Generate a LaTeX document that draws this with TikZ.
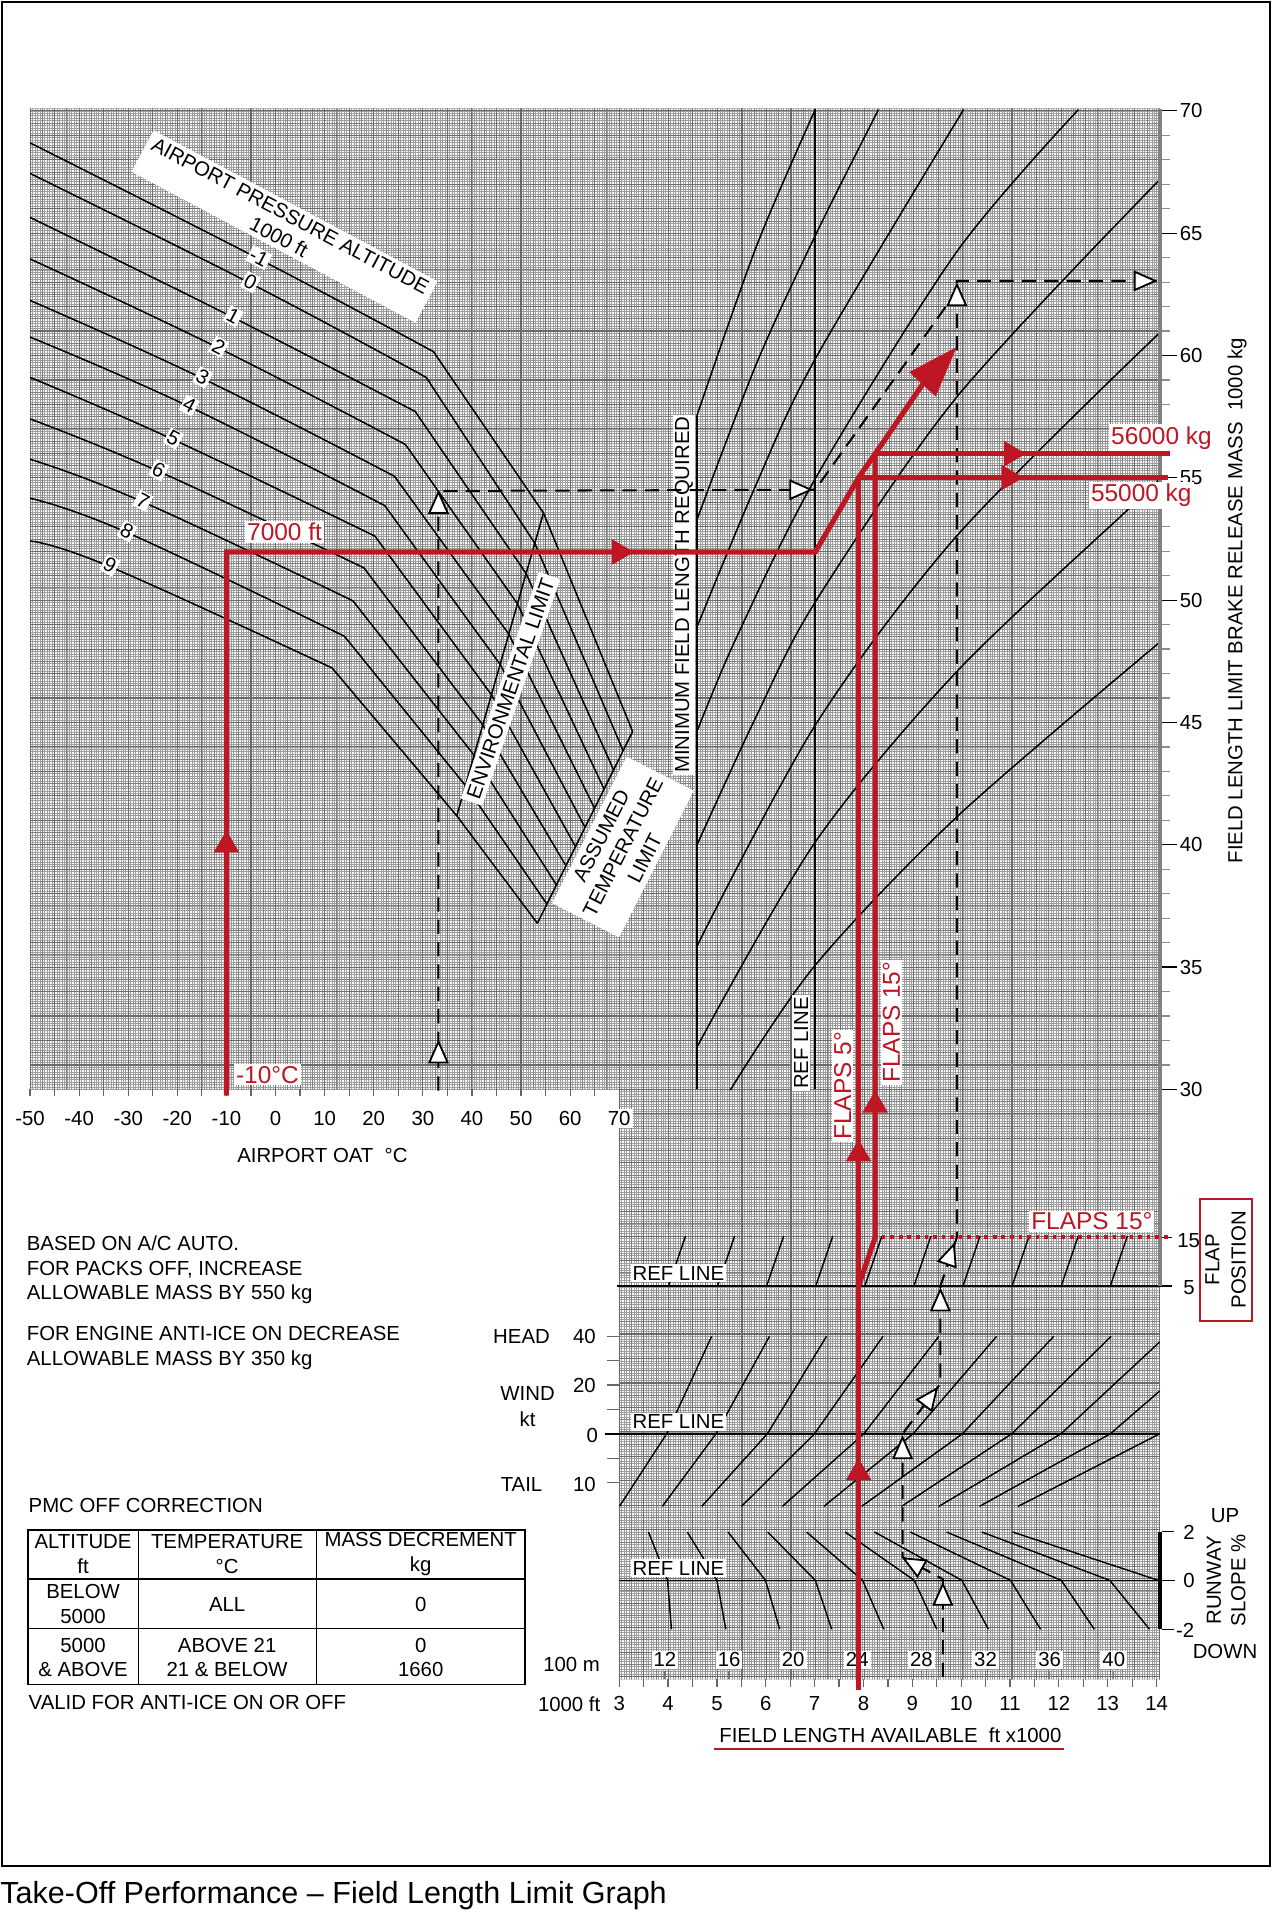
\documentclass[tikz,border=0pt]{standalone}
\usepackage{fontspec}
\setmainfont{Liberation Sans}
\usetikzlibrary{calc}
\usetikzlibrary{arrows.meta}
\definecolor{chartred}{RGB}{190,22,34}
\tikzset{
  gridminor/.style={black!38,line width=0.35pt},
  gridmid/.style={black!50,line width=0.45pt},
  gridmajor/.style={black!58,line width=0.55pt},
  curve/.style={black,line width=0.75pt},
  guide/.style={black,line width=0.7pt},
  lbl/.style={font=\fontsize{10}{12}\selectfont,inner sep=1pt},
  wlbl/.style={lbl,fill=white},
  redlbl/.style={font=\fontsize{12}{14}\selectfont,text=chartred,fill=white,inner sep=1pt},
  redpath/.style={chartred,line width=2.5pt},
  example/.style={black,line width=1pt,dash pattern=on 7pt off 4pt},
  otri/.pic={\draw[fill=white,line width=0.9pt,line join=miter,solid] (0,0) -- (-17,7.5) -- (-17,-7.5) -- cycle;},
  rtri/.pic={\fill[chartred] (0,0) -- (-18,10.5) -- (-18,-10.5) -- cycle;},
}
\begin{document}
\begin{tikzpicture}[x=0.6pt,y=-0.6pt]
  \useasboundingbox (0,0) rectangle (1041,1568);
  \draw[line width=1pt] (1.5,1.5) rectangle (1039.5,1528);
  \node[anchor=west,inner sep=0pt,font=\fontsize{15}{18}\selectfont] (caption) at (0,1552)
    {Take-Off Performance – Field Length Limit Graph};
  %
  % background grid
  \begin{scope}
    \clip (24.6,88.8) -- (949.6,88.8) -- (949.6,1375) -- (507,1375) -- (507,892) -- (24.6,892) -- cycle;
    \draw[gridminor] \foreach \i in {0,...,461} {({24.6+2.01*\i},88) -- ++(0,1290)};
    \draw[gridminor] \foreach \j in {-401,...,242} {(24,{892+2.003*\j}) -- ++(927,0)};
    \draw[gridmid] \foreach \i in {0,...,92} {({24.6+10.05*\i},88) -- ++(0,1290)};
    \draw[gridmid] \foreach \j in {-80,...,49} {(24,{892+10.015*\j}) -- ++(927,0)};
    \draw[gridmajor] \foreach \i in {0,...,46} {({24.6+20.1*\i},88) -- ++(0,1290)};
    \draw[gridmajor] \foreach \j in {-40,...,24} {(24,{892+20.03*\j}) -- ++(927,0)};
  \end{scope}
  %
  % pressure altitude lines
  \foreach \ya/\px/\py/\bx/\by [count=\n from 0] in {117/212/212/355/288, 142/205/232/349/309,
      178/191/260/340/337, 212/179/285/332/364, 246/166/310/323/390, 276/155/333/315/414,
      309/142/360/307/439, 343/130/386/298/465, 376/117/411/289/492, 408/104/436/282/521,
      443/90/464/272/547}
    \draw[curve] plot[smooth,tension=0.7] coordinates {(24.6,\ya) (\px,\py) (\bx,\by)}
      -- ($(445,420)!\n/10!(374,668)$) -- ($(518,599)!\n/10!(440,756)$);
  \draw[curve] (445,420) -- (374,668);
  \draw[curve] (518,599) -- (440,756);
  %
  % field length curves
  \draw[curve] (570.6,892) -- (570.6,340.4);
  \draw[curve] (667.5,89) -- (667.5,892);
  \draw[curve] plot[smooth] coordinates {(570.6,340.4) (619.7,200.8) (667.5,89.7)};
  \draw[curve] plot[smooth] coordinates {(570.6,425.8) (619.7,297) (667.5,193) (719.3,89.7)};
  \draw[curve] plot[smooth] coordinates {(570.6,513.6) (619,397) (667.5,293.9) (789,89.7)};
  \draw[curve] plot[smooth] coordinates {(570.6,599) (603,522) (667.5,392) (783.5,206) (883,89.7)};
  \draw[curve] plot[smooth] coordinates {(570.6,692) (619,587) (667.5,493) (783.5,325) (948.7,148)};
  \draw[curve] plot[smooth] coordinates {(570.6,774.8) (667.5,593.8) (783.5,438.7) (948.7,273.2)};
  \draw[curve] plot[smooth] coordinates {(570.6,857.5) (667.5,689.5) (783.5,549.8) (925.5,415.4) (948.7,393)};
  \draw[curve] plot[smooth] coordinates {(597.9,892.6) (667.5,790.3) (783.5,668.8) (948.7,526.6)};
  %
  % flap, wind and slope guide lines
  \foreach \k in {0,...,9}
    \draw[guide] ({547.3+40.2*\k},1053) -- ++(14,-41);
  \draw[guide] (505,1053) -- (960,1053);
  \draw[guide] (495,1174) -- (949.6,1174);
  \draw[guide] (507,1294) -- (962,1294);
  \foreach \wb/\wr/\wx/\wy in {507.2/545.8/582.7/1094.2, 542.3/586.2/630/1094.2,
      574.6/628.3/676.7/1094.2, 607.2/666.9/723/1094.2, 640.6/707.3/768.7/1094.2,
      674.6/747.6/816/1094.2, 705.5/788/862.8/1094.2, 738.2/828.4/909.8/1094.2,
      768.7/868.7/949.5/1098.8, 802/909.1/949.5/1139}
    \draw[guide] (\wb,1233.4) -- (\wr,1174) -- (\wx,\wy);
  \draw[guide] (833.6,1233.4) -- (949.5,1174);
  \foreach \st/\sr/\sb in {531/546.6/549.8, 562.8/587/594.3, 596.1/626.8/638.4, 628.6/667.6/681,
      660.4/706.3/723.6, 692/748.6/767, 716.1/787.6/809.3, 745.3/827.4/852, 775/869/896,
      803.9/908.7/941.2}
    \draw[guide] (\st,1254.4) -- (\sr,1294) -- (\sb,1334);
  \draw[guide] (829.2,1254.4) -- (948.4,1294);
  %
  % right hand scales
  \fill[black!50] (948,89) rectangle (951.5,1053);
  \fill[black] (948.5,1254) rectangle (951.5,1334);
  \foreach \m in {30,...,70}{
    \pgfmathsetmacro{\my}{892-20.03*(\m-30)}
    \draw[black!45,line width=0.6pt] (951.5,\my) -- (958,\my);
  }
  \foreach \m in {30,35,...,70}{
    \pgfmathsetmacro{\my}{892-20.03*(\m-30)}
    \draw[line width=0.6pt] (951.5,\my) -- (964,\my);
    \node[lbl,anchor=west] (mass\m) at (964,\my) {\m};
  }
  \node[lbl,rotate=90] (masstitle) at (1013,492) {FIELD LENGTH LIMIT BRAKE RELEASE MASS~~1000 kg};
  \draw[line width=0.6pt] (951.5,1013) -- (960,1013);
  \node[lbl,anchor=west] (flap15) at (962,1016) {15};
  \node[lbl,anchor=west] (flap5) at (967,1054) {5};
  \draw[chartred,line width=1pt] (982.5,981.5) rectangle (1025,1081.5);
  \node[lbl,rotate=90,align=center,font=\fontsize{10}{13}\selectfont] (flappos) at (1003.5,1031.5) {FLAP\\POSITION};
  \draw[line width=0.6pt] (951.5,1254) -- (961,1254) (951.5,1334) -- (961,1334);
  \node[lbl,anchor=west] (slope2) at (967,1255) {2};
  \node[lbl,anchor=west] (slope0) at (967,1294) {0};
  \node[lbl,anchor=west] (slopem2) at (961,1335) {-2};
  \node[lbl] (up) at (1003,1241) {UP};
  \node[lbl] (down) at (1003,1352) {DOWN};
  \node[lbl,rotate=90,align=center,font=\fontsize{10}{12}\selectfont] (rwyslope) at (1004,1294) {RUNWAY\\SLOPE \%};
  %
  % left hand wind scale
  \foreach \wy in {1094,1114,1134,1154,1194,1214}
    \draw[black!60,line width=0.6pt] (497,\wy) -- (507,\wy);
  \node[lbl] (head) at (427,1094.5) {HEAD};
  \node[lbl] (w40) at (478.5,1094.5) {40};
  \node[lbl] (wind) at (432,1141) {WIND};
  \node[lbl] (kt) at (432,1162) {kt};
  \node[lbl] (w20) at (478.5,1134.5) {20};
  \node[lbl] (w0) at (485,1175) {0};
  \node[lbl] (tail) at (427,1215.5) {TAIL};
  \node[lbl] (w10) at (478.5,1215.5) {10};
  %
  % bottom scales
  \foreach \T in {-50,-45,...,70}
    \draw[black!60,line width=0.6pt] ({225.6+4.02*\T},892) -- ++(0,5);
  \foreach \T in {-50,-40,...,70}
    \node[wlbl] (oat\T) at ({225.6+4.02*\T},916) {\T};
  \node[lbl] (oattitle) at (264,946) {AIRPORT OAT\ \ °C};
  \foreach \k in {0,...,22}
    \draw[black!60,line width=0.6pt] ({507+20*\k},1375) -- ++(0,6);
  \foreach \L in {3,...,14}
    \node[lbl] (fl\L) at ({507+40*(\L-3)},1395) {\L};
  \foreach \M in {12,16,...,40}{
    \pgfmathsetmacro{\mx}{507+40*(\M*0.32808-3)}
    \draw[black!55,line width=0.6pt] (\mx,1368) -- (\mx,1375);
    \node[wlbl] (m\M) at (\mx,1359) {\M};
  }
  \node[lbl] (hundredm) at (468,1363) {100 m};
  \node[lbl] (thousandft) at (466,1395) {1000 ft};
  \node[lbl] (fltitle) at (729,1421) {FIELD LENGTH AVAILABLE\ \ ft x1000};
  \draw[chartred,line width=1.2pt] (584.5,1432) -- (871.5,1432);
  %
  % labels on the chart
  \node[wlbl,rotate=-28,align=center,minimum width=158pt,inner sep=2pt] (pressalt) at (233,185.5)
    {AIRPORT PRESSURE ALTITUDE\\1000 ft};
  \foreach \lab/\px/\py in {-1/212/211, 0/205/231, 1/191/259, 2/179/284, 3/166/309, 4/155/332,
      5/142/359, 6/130/385, 7/117/410, 8/104/435, 9/90/463}
    \node[wlbl,rotate=-28,inner sep=0.8pt] (alt\lab) at (\px,\py) {\lab};
  \node[wlbl,rotate=71,inner sep=2pt] (envlim) at (418,564) {ENVIRONMENTAL LIMIT};
  \node[wlbl,rotate=63,align=center,inner sep=3pt] (asslim) at (510,693.5) {ASSUMED\\TEMPERATURE\\LIMIT};
  \node[wlbl,rotate=90] (minfield) at (560,487) {MINIMUM FIELD LENGTH REQUIRED};
  \node[wlbl,rotate=90] (refup) at (656,854) {REF LINE};
  \node[wlbl] (refflap) at (555.5,1042.5) {REF LINE};
  \node[wlbl] (refwind) at (555.5,1164) {REF LINE};
  \node[wlbl] (refslope) at (555.5,1284) {REF LINE};
  %
  % example: dashed
  \draw[example] (359,893) -- (359,402) -- (667.5,401) -- (778,246);
  \draw[example] (772,1373) -- (772,1293) -- (739,1275) -- (739,1174) -- (770,1133)
    -- (770,1053) -- (783.5,1013) -- (783.5,230) -- (947,230);
  \pic[rotate=90] at (359,853) {otri};
  \pic[rotate=90] at (359,403) {otri};
  \pic at (664,401) {otri};
  \pic[rotate=90] at (783.5,233) {otri};
  \pic at (946,230) {otri};
  \pic[rotate=90] at (772,1297) {otri};
  \pic[rotate=151] at (740,1276) {otri};
  \pic[rotate=90] at (739,1177) {otri};
  \pic[rotate=53] at (767,1137) {otri};
  \pic[rotate=90] at (770,1056) {otri};
  \pic[rotate=71] at (781,1019) {otri};
  %
  % example: red
  \draw[redpath,line join=miter,-{Triangle[length=25pt,width=17pt]}] (185.4,897) -- (185.4,452)
    -- (667.5,452) -- (703,391) -- (716.6,371.5) .. controls (735,345) and (755,315) .. (783.5,284);
  \draw[redpath] (703,391) -- (956,391);
  \draw[redpath] (716.6,371.5) -- (958,371.5);
  \draw[redpath] (703,1384) -- (703,391);
  \draw[redpath,line join=miter] (703,1053) -- (716.6,1013) -- (716.6,371.5);
  \draw[chartred,line width=1.8pt,dash pattern=on 1.8pt off 2.4pt] (722,1013) -- (958,1013);
  \pic[rotate=90] at (185.4,680) {rtri};
  \pic at (519,452) {rtri};
  \pic at (838,391) {rtri};
  \pic at (840,371.5) {rtri};
  \pic[rotate=90] at (703,933) {rtri};
  \pic[rotate=90] at (703,1194) {rtri};
  \pic[rotate=90] at (716.6,893) {rtri};
  \node[redlbl] (oatval) at (219,880) {-10°C};
  \node[redlbl] (altval) at (233,435.5) {7000 ft};
  \node[redlbl] (mass56) at (951,358.5) {56000 kg};
  \node[redlbl] (mass55) at (934.5,405.5) {55000 kg};
  \node[redlbl] (flaps15h) at (894,1000) {FLAPS 15°};
  \node[redlbl,rotate=90] (flaps5v) at (690,889) {FLAPS 5°};
  \node[redlbl,rotate=90] (flaps15v) at (730,837) {FLAPS 15°};
  %
  % notes and table
  \node[lbl,anchor=base west] (note1) at (20,1023.5) {BASED ON A/C AUTO.};
  \node[lbl,anchor=base west] (note2) at (20,1044) {FOR PACKS OFF, INCREASE};
  \node[lbl,anchor=base west] (note3) at (20,1064.4) {ALLOWABLE MASS BY 550 kg};
  \node[lbl,anchor=base west] (note4) at (20,1097.5) {FOR ENGINE ANTI-ICE ON DECREASE};
  \node[lbl,anchor=base west] (note5) at (20,1117.7) {ALLOWABLE MASS BY 350 kg};
  \node[lbl,anchor=base west] (pmc) at (21.5,1238.8) {PMC OFF CORRECTION};
  \draw[line width=0.8pt] (22.7,1252.5) rectangle (430,1379.4);
  \draw[line width=0.8pt] (113.3,1252.5) -- (113.3,1379.4) (259,1252.5) -- (259,1379.4)
    (22.7,1293) -- (430,1293) (22.7,1333.5) -- (430,1333.5);
  \node[lbl,align=center] (hdalt) at (68,1272.5) {ALTITUDE\\ft};
  \node[lbl,align=center] (hdtemp) at (186,1272.5) {TEMPERATURE\\°C};
  \node[lbl,align=center] (hdmass) at (344.5,1272.5) {MASS DECREMENT\\kg};
  \node[lbl,align=center] (r1alt) at (68,1313.5) {BELOW\\5000};
  \node[lbl] (r1temp) at (186,1313.5) {ALL};
  \node[lbl] (r1mass) at (344.5,1313.5) {0};
  \node[lbl,align=center] (r2alt) at (68,1357) {5000\\\& ABOVE};
  \node[lbl,align=center] (r2temp) at (186,1357) {ABOVE 21\\21 \& BELOW};
  \node[lbl,align=center] (r2mass) at (344.5,1357) {0\\1660};
  \node[lbl,anchor=base west] (valid) at (21.5,1400) {VALID FOR ANTI-ICE ON OR OFF};
\end{tikzpicture}
\end{document}
